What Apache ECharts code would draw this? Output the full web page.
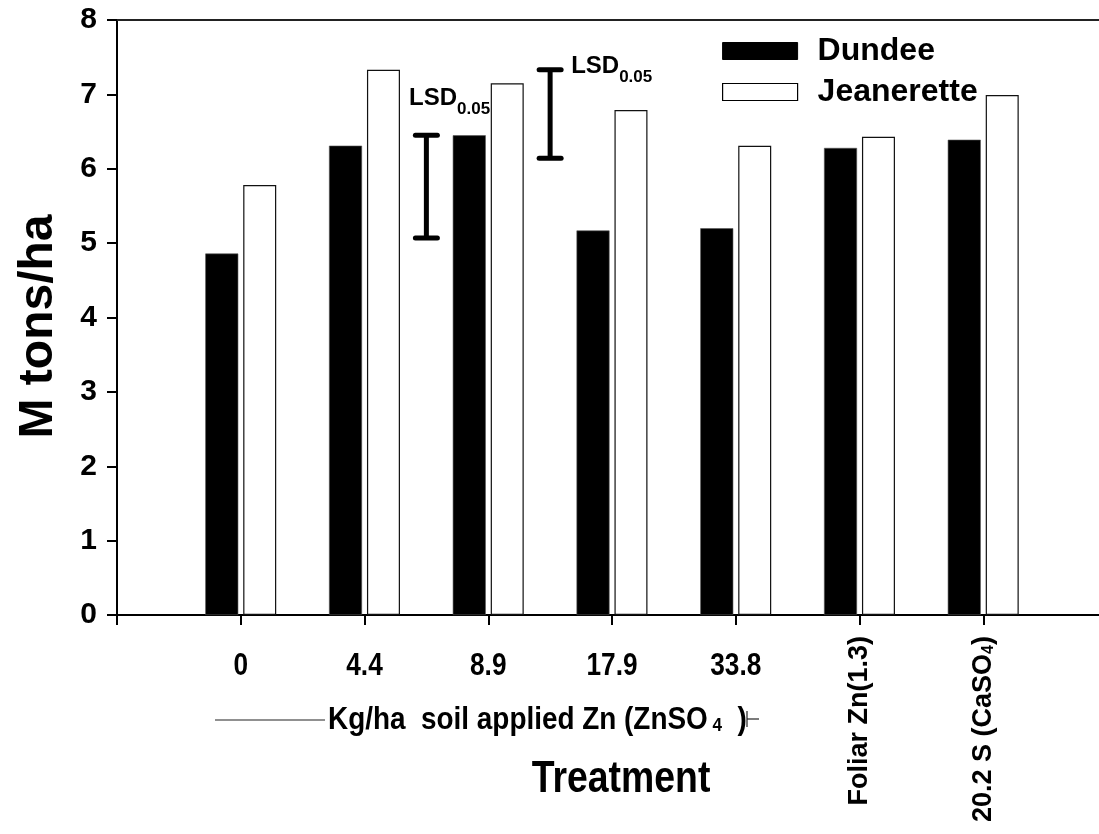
<!DOCTYPE html>
<html><head><meta charset="utf-8">
<script src="https://cdn.jsdelivr.net/npm/echarts@6/dist/echarts.min.js"></script>
<style>html,body{margin:0;padding:0;background:#fff}#c{width:1099px;height:834px}</style>
</head><body><div id="c"></div>
<script>
// ---- data ----
const categories = ['0', '4.4', '8.9', '17.9', '33.8', 'Foliar Zn(1.3)', '20.2 S (CaSO4)'];
const dundee = [4.86, 6.31, 6.45, 5.17, 5.20, 6.28, 6.39];
const jeanerette = [5.78, 7.33, 7.15, 6.79, 6.31, 6.43, 6.99];
const yTickLabels = ['0', '1', '2', '3', '4', '5', '6', '7', '8'];
const lsdX = [1.5, 2.5];
const lsdLow = [5.07, 6.14];
const lsdHigh = [6.45, 7.33];
const lsdLabelX = [1.36, 2.67];
const lsdLabelY = [6.69, 7.12];

const SANS = "'Liberation Sans', Arial, Helvetica, sans-serif";
const NARROW_SCALE = 0.82; // emulate the condensed face of the original

const chart = echarts.init(document.getElementById('c'), null, {renderer: 'canvas'});

const nHoriz = 5; // first five tick labels are horizontal, the rest rotated

const option = {
  animation: false,
  backgroundColor: '#fff',
  grid: {left: 117, top: 20, width: 990, bottom: 219, containLabel: false, outerBoundsMode: 'none'},
  legend: {
    orient: 'vertical', left: 717, top: 30,
    itemWidth: 75, itemHeight: 17, itemGap: 9,
    icon: 'rect',
    selectedMode: false,
    textStyle: {fontFamily: SANS, fontWeight: 'bold', fontSize: 32, color: '#000', lineHeight: 32, padding: [0, 0, 0, 15]},
    data: [
      {name: 'Dundee', itemStyle: {color: '#000', borderColor: '#000', borderWidth: 1}},
      {name: 'Jeanerette', itemStyle: {color: '#fff', borderColor: '#000', borderWidth: 1.2}}
    ]
  },
  xAxis: [
    {
      type: 'value', min: -1, max: 7, interval: 1, position: 'bottom',
      axisLine: {show: true, onZero: false, lineStyle: {color: '#000', width: 2}},
      axisTick: {show: true, inside: false, length: 10, lineStyle: {color: '#000', width: 2}},
      splitLine: {show: false},
      axisLabel: {show: false}
    },
    {
      type: 'value', min: -1, max: 7, interval: 1, position: 'bottom',
      axisLine: {show: false}, axisTick: {show: false}, splitLine: {show: false},
      axisLabel: {
        rotate: 90, margin: 21, color: '#000', fontFamily: SANS, fontWeight: 'bold', fontSize: 27,
        formatter: v => {
          if (!Number.isInteger(v) || v < nHoriz || v >= categories.length) return '';
          const s = categories[v];
          const m = s.match(/^(.*[A-Z][a-z]?O)(\d)(\))$/);
          if (m) return '{m|' + m[1] + '}{s|' + m[2] + '}{m|' + m[3] + '}';
          return '{m|' + s + '}';
        },
        rich: {
          m: {fontFamily: SANS, fontWeight: 'bold', fontSize: 27, color: '#000'},
          s: {fontFamily: SANS, fontWeight: 'bold', fontSize: 16, color: '#000', padding: [10, 0, 0, 0]}
        }
      }
    },
    {
      type: 'value', min: -1, max: 7, position: 'top',
      axisLine: {show: true, onZero: false, lineStyle: {color: '#222', width: 2}},
      axisTick: {show: false}, axisLabel: {show: false}, splitLine: {show: false}
    }
  ],
  yAxis: {
    type: 'value', min: 0, max: 8, interval: 1,
    name: 'M tons/ha', nameLocation: 'middle', nameGap: 54,
    nameTextStyle: {fontFamily: SANS, fontWeight: 'bold', fontSize: 48, color: '#000', padding: [0, 18, 0, 0]},
    axisLine: {show: true, onZero: false, lineStyle: {color: '#000', width: 2}},
    axisTick: {show: true, inside: false, length: 10, lineStyle: {color: '#000', width: 2}},
    splitLine: {show: false},
    axisLabel: {
      margin: 20, color: '#000', fontFamily: SANS, fontWeight: 'bold', fontSize: 30,
      formatter: v => (Number.isInteger(v) ? yTickLabels[v] : '')
    }
  },
  series: [
    {
      name: 'Dundee', type: 'bar', xAxisIndex: 0, yAxisIndex: 0,
      barWidth: 33, barGap: '15%',
      itemStyle: {color: '#000', borderColor: '#555', borderWidth: 0.6},
      data: dundee.map((v, i) => [i, v])
    },
    {
      name: 'Jeanerette', type: 'bar', xAxisIndex: 0, yAxisIndex: 0,
      barWidth: 33, barGap: '15%',
      itemStyle: {color: '#fff', borderColor: '#111', borderWidth: 1.2},
      data: jeanerette.map((v, i) => [i, v])
    },
    {
      // horizontal category labels (condensed bold face, as in the original)
      name: 'xlabels', type: 'custom', xAxisIndex: 0, yAxisIndex: 0, clip: false, silent: true,
      encode: {x: 0, y: 1},
      data: categories.slice(0, nHoriz).map((c, i) => [i, 0]),
      renderItem: (params, api) => {
        const p = api.coord([api.value(0), 0]);
        return {
          type: 'text', x: p[0], y: p[1] + 35, scaleX: NARROW_SCALE,
          style: {text: categories[params.dataIndex], align: 'center', verticalAlign: 'top',
            fontFamily: SANS, fontWeight: 'bold', fontSize: 32, fill: '#000'}
        };
      }
    },
    {
      name: 'LSD', type: 'custom', xAxisIndex: 0, yAxisIndex: 0, clip: false, z: 5,
      encode: {x: 0, y: [1, 2]},
      data: lsdX.map((x, i) => [x, lsdLow[i], lsdHigh[i], lsdLabelX[i], lsdLabelY[i]]),
      renderItem: (params, api) => {
        const x = api.value(0);
        const pTop = api.coord([x, api.value(2)]);
        const pBot = api.coord([x, api.value(1)]);
        const lab = api.coord([api.value(3), api.value(4)]);
        const cap = 11;
        const ls = {stroke: '#000', lineWidth: 5, lineCap: 'round'};
        return {
          type: 'group',
          children: [
            {type: 'line', shape: {x1: pTop[0], y1: pTop[1], x2: pBot[0], y2: pBot[1]}, style: {stroke: '#000', lineWidth: 5}},
            {type: 'line', shape: {x1: pTop[0] - cap, y1: pTop[1], x2: pTop[0] + cap, y2: pTop[1]}, style: ls},
            {type: 'line', shape: {x1: pBot[0] - cap, y1: pBot[1], x2: pBot[0] + cap, y2: pBot[1]}, style: ls},
            {
              type: 'text', x: lab[0], y: lab[1],
              style: {
                text: '{a|LSD}{b|0.05}', align: 'left', verticalAlign: 'bottom',
                rich: {
                  a: {fontFamily: SANS, fontWeight: 'bold', fontSize: 24, fill: '#000', verticalAlign: 'bottom', padding: [0, 0, 7, 0]},
                  b: {fontFamily: SANS, fontWeight: 'bold', fontSize: 17, fill: '#000', verticalAlign: 'bottom'}
                }
              }
            }
          ]
        };
      }
    }
  ],
  graphic: [
    {type: 'line', shape: {x1: 215, y1: 720, x2: 325, y2: 720}, style: {stroke: '#222', lineWidth: 1.2}},
    {
      type: 'text', x: 328, y: 720, scaleX: 0.9,
      style: {
        text: '{m|Kg/ha  soil applied Zn (ZnSO}{s| 4}{m|  )}', align: 'left', verticalAlign: 'middle',
        rich: {
          m: {fontFamily: SANS, fontWeight: 'bold', fontSize: 31, fill: '#000', verticalAlign: 'bottom'},
          s: {fontFamily: SANS, fontWeight: 'bold', fontSize: 19, fill: '#000', verticalAlign: 'bottom'}
        }
      }
    },
    {type: 'line', shape: {x1: 747, y1: 711, x2: 747, y2: 727}, style: {stroke: '#222', lineWidth: 1.2}},
    {type: 'line', shape: {x1: 747, y1: 719, x2: 759, y2: 719}, style: {stroke: '#222', lineWidth: 1.2}},
    {
      type: 'text', x: 621, y: 780, scaleX: 0.85,
      style: {text: 'Treatment', align: 'center', verticalAlign: 'middle', fontFamily: SANS, fontWeight: 'bold', fontSize: 44, fill: '#000'}
    }
  ]
};
chart.setOption(option);
</script>
</body></html>
